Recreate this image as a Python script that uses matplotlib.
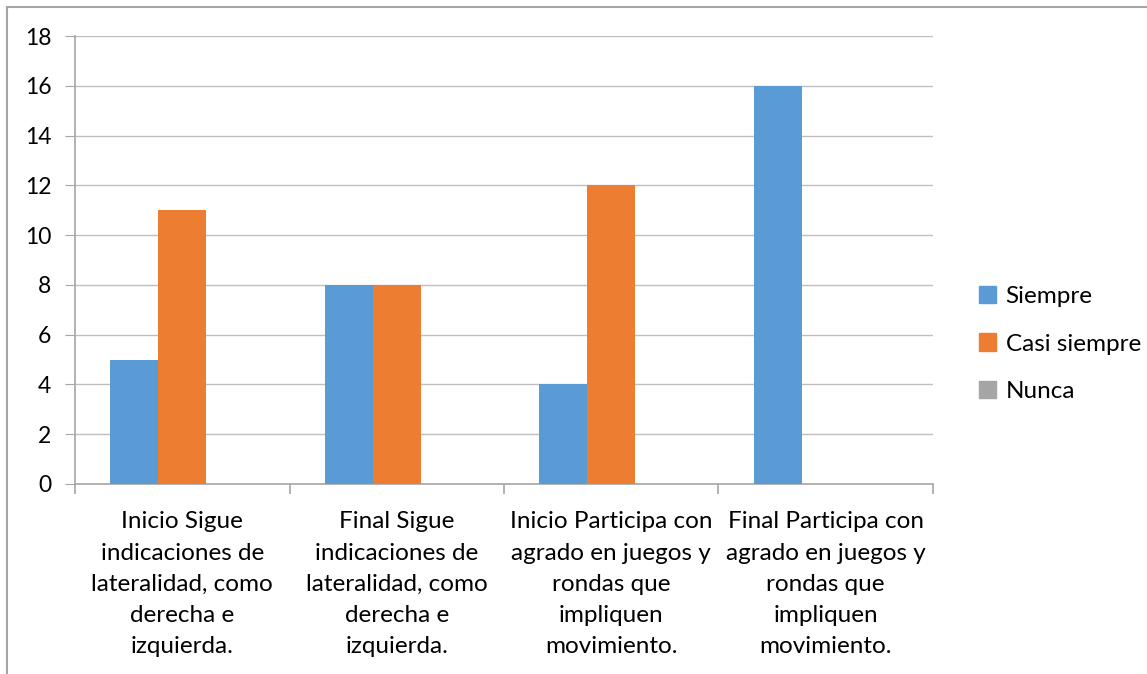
import numpy as np
import matplotlib
matplotlib.use("Agg")
import matplotlib.pyplot as plt
from matplotlib.patches import Rectangle

plt.rcParams['font.family'] = ['Lato', 'DejaVu Sans']

categories = [
    "Inicio Sigue\nindicaciones de\nlateralidad, como\nderecha e\nizquierda.",
    "Final Sigue\nindicaciones de\nlateralidad, como\nderecha e\nizquierda.",
    "Inicio Participa con\nagrado en juegos y\nrondas que\nimpliquen\nmovimiento.",
    "Final Participa con\nagrado en juegos y\nrondas que\nimpliquen\nmovimiento.",
]
siempre = [5, 8, 4, 16]
casi_siempre = [11, 8, 12, 0]
nunca = [0, 0, 0, 0]

series = ["Siempre", "Casi siempre", "Nunca"]
colors = ["#5b9bd5", "#ed7d31", "#a5a5a5"]

fs = 17.5

fig = plt.figure(figsize=(11.47, 6.74), dpi=100)
# outer chart border (only top and left are visible in the crop)
fig.add_artist(plt.Line2D([7 / 1147, 7 / 1147], [0, 1 - 7 / 674], color="#a6a6a6", lw=1.5))
fig.add_artist(plt.Line2D([7 / 1147, 1], [1 - 7 / 674, 1 - 7 / 674], color="#a6a6a6", lw=1.5))

ax = fig.add_axes([75 / 1147, 1 - 484 / 674, (933 - 75) / 1147, (484 - 36) / 674])

x = np.arange(len(categories))
w = 0.224
for i, (vals, name, c) in enumerate(zip([siempre, casi_siempre, nunca], series, colors)):
    ax.bar(x + (i - 1) * w, vals, w, color=c, label=name, zorder=3)

ax.set_xlim(-0.5, len(categories) - 0.5)
ax.set_ylim(0, 18)
ax.set_yticks(range(0, 19, 2))
ax.grid(axis="y", color="#bfbfbf", lw=1, zorder=0)
for s in ["top", "right"]:
    ax.spines[s].set_visible(False)
for s in ["left", "bottom"]:
    ax.spines[s].set_color("#a6a6a6")
    ax.spines[s].set_linewidth(1.2)

ax.tick_params(axis="y", length=7, color="#a6a6a6", labelsize=16.5, pad=10)
ax.set_xticks(np.arange(-0.5, len(categories)))
ax.set_xticklabels([])
ax.tick_params(axis="x", length=7, color="#a6a6a6", width=1.2)
for xi, lab in zip(x, categories):
    ax.text(xi, -1.1, lab, ha="center", va="top", fontsize=fs, linespacing=1.6,
            transform=ax.transData)

handles = [Rectangle((0, 0), 1, 1, color=c) for c in colors]
fig.legend(handles, series, loc="center left", bbox_to_anchor=(957 / 1147, 1 - 344 / 674),
           frameon=False, fontsize=fs, handlelength=0.7, handleheight=0.7,
           handletextpad=0.4, labelspacing=1.1)

fig.savefig("out.png", dpi=100)
